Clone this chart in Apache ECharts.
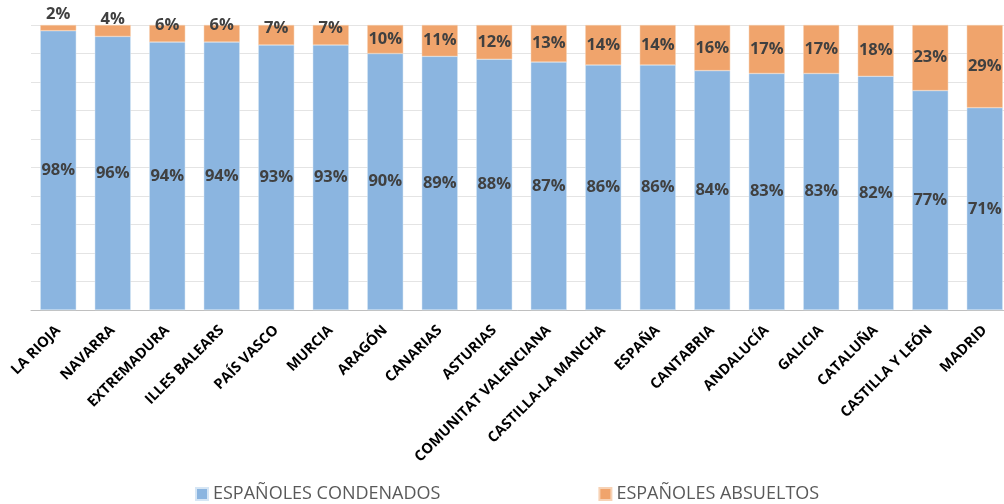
<!DOCTYPE html>
<html>
<head>
    <meta charset="utf-8">
    <title>Condenados / absueltos</title>
    <script src="https://cdn.jsdelivr.net/npm/echarts@6/dist/echarts.min.js"></script>
    <style type="text/css">
    html, body { margin: 0; padding: 0; background: #fff; }
    #main { width: 1004px; height: 504px; }
    </style>
</head>
<body>
<div id="main"></div>
<script type="text/javascript">
    var regiones = ['LA RIOJA', 'NAVARRA', 'EXTREMADURA', 'ILLES BALEARS', 'PAÍS VASCO', 'MURCIA',
        'ARAGÓN', 'CANARIAS', 'ASTURIAS', 'COMUNITAT VALENCIANA', 'CASTILLA-LA MANCHA', 'ESPAÑA',
        'CANTABRIA', 'ANDALUCÍA', 'GALICIA', 'CATALUÑA', 'CASTILLA Y LEÓN', 'MADRID'];
    var condenados = [98, 96, 94, 94, 93, 93, 90, 89, 88, 87, 86, 86, 84, 83, 83, 82, 77, 71];
    var absueltos = [2, 4, 6, 6, 7, 7, 10, 11, 12, 13, 14, 14, 16, 17, 17, 18, 23, 29];

    var fuente = '"Open Sans", "DejaVu Sans", sans-serif';
    var etiqueta = {
        show: true,
        position: 'inside',
        formatter: '{c}%',
        color: '#404040',
        fontFamily: fuente,
        fontWeight: 'bold',
        fontSize: 16.5
    };

    // small orange segments: the label is pushed up above the bar, like the original
    var datosAbs = absueltos.map(function (v) {
        if (v >= 10) return v;
        return { value: v, label: { offset: [0, -(12 - v) * 1.4] } };
    });

    var myChart = echarts.init(document.getElementById('main'));
    myChart.setOption({
        backgroundColor: '#fff',
        animation: false,
        grid: { left: 31, top: 25, width: 981, height: 285, outerBoundsMode: 'none', containLabel: false },
        legend: {
            left: 190,
            top: 480,
            itemWidth: 12,
            itemHeight: 12,
            itemGap: 158,
            icon: 'rect',
            textStyle: { color: '#595959', fontFamily: fuente, fontSize: 18 },
            data: ['ESPAÑOLES CONDENADOS', 'ESPAÑOLES ABSUELTOS']
        },
        xAxis: {
            type: 'category',
            data: regiones,
            axisLine: { lineStyle: { color: '#bfbfbf', width: 1 } },
            axisTick: { show: false },
            axisLabel: {
                rotate: 45,
                interval: 0,
                margin: 18,
                color: '#000',
                fontFamily: fuente,
                fontWeight: 'bold',
                fontSize: 14.5
            }
        },
        yAxis: {
            type: 'value',
            min: 0,
            max: 100,
            interval: 10,
            axisLabel: { show: false },
            axisLine: { show: false },
            axisTick: { show: false },
            splitLine: { lineStyle: { color: '#e4e4e4' } }
        },
        series: [{
            name: 'ESPAÑOLES CONDENADOS',
            type: 'bar',
            stack: 'total',
            barCategoryGap: '34%',
            itemStyle: { color: '#8bb5e0', borderColor: '#d6e6f5', borderWidth: 0.5 },
            label: etiqueta,
            data: condenados
        }, {
            name: 'ESPAÑOLES ABSUELTOS',
            type: 'bar',
            stack: 'total',
            barCategoryGap: '34%',
            itemStyle: { color: '#f0a46c', borderColor: '#f7d2b5', borderWidth: 0.5 },
            label: etiqueta,
            data: datosAbs
        }]
    });
</script>
</body>
</html>
